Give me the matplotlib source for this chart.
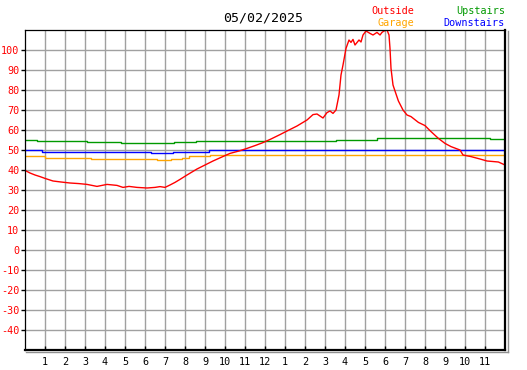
import matplotlib
matplotlib.use("Agg")
import matplotlib.pyplot as plt
from matplotlib.lines import Line2D

# hours since midnight
out_h = [0, 0.25, 0.5, 0.75, 1.0, 1.4, 1.8, 2.25, 2.7, 3.1, 3.6, 4.1, 4.6, 4.9, 5.2,
         5.6, 6.1, 6.5, 6.75, 7.0, 7.25, 7.5, 7.75, 8.1, 8.6, 9.0, 9.4, 9.8, 10.25,
         10.7, 11.1, 11.5, 11.9, 12.3, 12.75, 13.2, 13.6, 14.1, 14.4, 14.6, 14.75,
         14.9, 15.1, 15.25, 15.4, 15.55, 15.7, 15.8, 15.9, 16.05, 16.2, 16.3, 16.4,
         16.5, 16.7, 16.8, 16.9, 17.05, 17.25, 17.4, 17.6, 17.75, 17.85, 17.95, 18.1,
         18.2, 18.25, 18.3, 18.4, 18.5, 18.67, 18.9, 19.1, 19.3, 19.67, 20.0, 20.3,
         20.67, 21.0, 21.3, 21.75, 21.9, 22.3, 22.75, 23.1, 23.67, 24.0]
outside = [39.8, 38.5, 37.5, 36.7, 35.8, 34.5, 34.0, 33.5, 33.2, 32.8, 31.8, 32.8, 32.3,
           31.3, 31.8, 31.3, 31.0, 31.3, 31.7, 31.3, 32.5, 33.8, 35.3, 37.5, 40.5, 42.5,
           44.5, 46.3, 48.3, 49.5, 50.8, 52.2, 53.7, 55.5, 57.7, 60.0, 62.0, 65.0, 67.7,
           68.0, 67.0, 66.0, 68.7, 69.5, 68.3, 70.0, 77.5, 87.5, 92.5, 100.8, 105.0,
           103.8, 105.3, 102.5, 105.0, 104.0, 107.5, 109.5, 108.3, 107.5, 108.8, 107.5,
           108.8, 109.5, 110.0, 107.5, 100.8, 90.8, 82.5, 79.5, 74.5, 70.0, 67.5, 66.7,
           63.8, 62.2, 59.2, 55.8, 53.3, 51.7, 50.0, 47.5, 46.7, 45.5, 44.5, 44.0, 42.5]

up_h = [0, 0.6, 3.1, 4.8, 7.45, 8.55, 15.55, 17.6, 23.25, 24]
upstairs = [55.0, 54.5, 54.0, 53.3, 54.0, 54.5, 55.2, 55.8, 55.5, 55.5]

down_h = [0, 0.85, 6.3, 7.4, 9.2, 24]
downstairs = [49.8, 49.2, 48.3, 49.2, 49.8, 49.8]

gar_h = [0, 1.0, 3.3, 6.6, 7.3, 7.85, 8.2, 9.25, 24]
garage = [46.8, 46.2, 45.7, 45.2, 45.7, 46.2, 46.8, 47.3, 47.3]

x_ticks = list(range(1, 24))
x_labels = [str(h if h <= 12 else h - 12) for h in x_ticks]
y_ticks = list(range(-40, 101, 10))

plt.rcParams['font.family'] = ['DejaVu Sans Mono']
plt.rcParams['axes.unicode_minus'] = False

fig = plt.figure(figsize=(5.27, 3.70), dpi=100)
W, H = 527, 370
ax = fig.add_axes([25 / W, 20 / H, 480 / W, 320 / H])

ax.plot(gar_h, garage, color='#ffa500', lw=1.0, drawstyle='steps-post')
ax.plot(down_h, downstairs, color='#0000ff', lw=1.0, drawstyle='steps-post')
ax.plot(up_h, upstairs, color='#009900', lw=1.0, drawstyle='steps-post')
ax.plot(out_h, outside, color='#ff0000', lw=1.0)

ax.set_xlim(0, 24)
ax.set_ylim(-50, 110)
ax.set_xticks(x_ticks)
ax.set_xticklabels(x_labels)
ax.set_yticks(y_ticks)
ax.grid(True, color='#a0a0a0', lw=1.0)
ax.set_axisbelow(True)

ax.tick_params(axis='x', direction='in', length=3, width=1, color='black',
               pad=5, labelsize=7.3)
ax.tick_params(axis='y', direction='out', length=3, width=1, color='black',
               pad=1, labelsize=7.3, labelcolor='#ff0000')

for s in ['left', 'top']:
    ax.spines[s].set_linewidth(0.9)
for s in ['right', 'bottom']:
    ax.spines[s].set_linewidth(1.6)

# grey shadow along right and bottom edges
fig.add_artist(Line2D([507.5 / W, 507.5 / W], [1 - 31 / H, 1 - 352 / H],
                      transform=fig.transFigure, color='#909090', lw=1.0))
fig.add_artist(Line2D([26 / W, 508 / W], [1 - 352 / H, 1 - 352 / H],
                      transform=fig.transFigure, color='#909090', lw=1.0))

fig.text(263 / W, 1 - 18 / H, '05/02/2025', ha='center', va='center', fontsize=9.5)
fig.text(414 / W, 1 - 11 / H, 'Outside', ha='right', va='center', fontsize=7.3, color='#ff0000')
fig.text(414 / W, 1 - 23 / H, 'Garage', ha='right', va='center', fontsize=7.3, color='#ffa500')
fig.text(505 / W, 1 - 11 / H, 'Upstairs', ha='right', va='center', fontsize=7.3, color='#009900')
fig.text(505 / W, 1 - 23 / H, 'Downstairs', ha='right', va='center', fontsize=7.3, color='#0000ff')

fig.savefig('out.png', dpi=100)
